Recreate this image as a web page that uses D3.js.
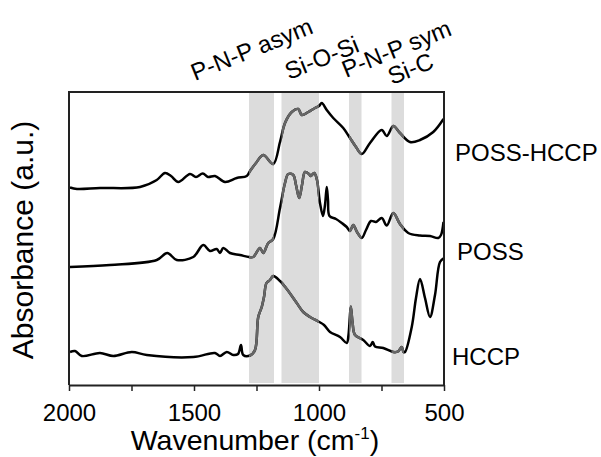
<!DOCTYPE html>
<html>
<head>
<meta charset="utf-8">
<script src="https://cdn.jsdelivr.net/npm/d3@7"></script>
<style>
  body { margin: 0; background: #fff; }
  text { font-family: "Liberation Sans", Arial, sans-serif; fill: #000; }
</style>
</head>
<body>
<svg id="chart" width="601" height="457"></svg>
<script>
// FTIR spectra, wavenumber (cm-1) vs absorbance (arbitrary units, curves offset)
var possHccpWn = [1996, 1968, 1876, 1716, 1649, 1616, 1592, 1563, 1516, 1492, 1465, 1444, 1416, 1376, 1329, 1289, 1276, 1252, 1223, 1183, 1156, 1136, 1109, 1083, 1069, 1043, 1016, 1000, 989, 969, 943, 903, 876, 852, 829, 796, 749, 729, 703, 676, 636, 596, 543, 502]
var possHccpAbs = [197.5, 196, 197, 198, 205, 212, 209, 203, 211, 208, 211.5, 208, 209, 203, 207, 209, 214, 222, 230, 221, 243, 262, 273, 276, 270, 273, 277, 279, 282, 275, 267, 257, 247, 238, 231, 242, 255, 249, 259, 252, 243, 245, 253, 266]

var possWn = [1996, 1836, 1649, 1607, 1569, 1503, 1463, 1436, 1409, 1396, 1383, 1356, 1316, 1280, 1263, 1236, 1223, 1203, 1183, 1156, 1136, 1123, 1103, 1092, 1079, 1068, 1056, 1040, 1034, 1019, 1008, 996, 984, 976, 969, 964, 958, 932, 909, 889, 876, 863, 848, 829, 812, 792, 772, 749, 729, 703, 676, 643, 596, 556, 523, 512, 502]
var possAbs = [118, 120, 125, 132, 125, 128, 140, 134, 136, 132, 137, 132, 130, 128, 128, 137, 132, 142, 146, 177, 202, 211, 210, 200, 187, 200, 213, 211, 209, 212, 205, 182, 169, 180, 198, 185, 169, 166, 162, 158, 154, 160, 153, 147, 155, 164, 163, 167, 159.5, 172, 161, 152, 149.5, 149, 147, 150, 163]

var hccpWn = [1996, 1976, 1949, 1876, 1823, 1749, 1689, 1503, 1416, 1396, 1369, 1343, 1324, 1312, 1303, 1276, 1256, 1243, 1229, 1220, 1210, 1196, 1183, 1156, 1129, 1089, 1063, 1036, 999, 980, 956, 916, 889, 882, 873, 866, 856, 823, 796, 785, 776, 743, 703, 684, 669, 662, 656, 629, 612, 596, 576, 556, 536, 516, 500]
var hccpAbs = [33, 34, 29, 32, 29, 33, 30, 28, 32, 29, 33, 30, 31, 40, 30, 29.5, 35, 68, 78, 88, 102, 105, 109, 104, 96, 82, 73, 68, 63, 60, 53, 48, 42, 50, 78.5, 63, 50, 45, 39, 43, 38.5, 37, 33, 33.5, 38, 33, 33, 58, 87, 106, 87, 68, 90, 123, 127]

var seriesNames = ["POSS-HCCP", "POSS", "HCCP"]

// shaded assignment bands [from, to] in cm-1
var bandFrom = [1280, 1150, 880, 710]
var bandTo = [1180, 1000, 830, 660]
var bandLabels = ["P-N-P asym", "Si-O-Si", "P-N-P sym", "Si-C"]

var xTicks = [2000, 1750, 1500, 1250, 1000, 750, 500]
var xTickLabels = ["2000", "", "1500", "", "1000", "", "500"]

var svg = d3.select("#chart")
var plotLeft = 69, plotRight = 444, plotTop = 92, plotBottom = 385

var x = d3.scaleLinear().domain([2000, 500]).range([plotLeft, plotRight])
var y = d3.scaleLinear().domain([0, 293]).range([plotBottom, plotTop])

var series = [
    { name: seriesNames[0], wn: possHccpWn, abs: possHccpAbs },
    { name: seriesNames[1], wn: possWn, abs: possAbs },
    { name: seriesNames[2], wn: hccpWn, abs: hccpAbs }
]

// clip paths
var defs = svg.append("defs")
defs.append("clipPath").attr("id", "plot-clip")
    .append("rect")
    .attr("x", plotLeft).attr("y", plotTop)
    .attr("width", plotRight - plotLeft).attr("height", plotBottom - plotTop)

var bandClip = defs.append("clipPath").attr("id", "band-clip")
bandFrom.forEach(function (b, i) {
    bandClip.append("rect")
        .attr("x", x(b)).attr("y", plotTop - 2)
        .attr("width", x(bandTo[i]) - x(b))
        .attr("height", plotBottom - plotTop)
})

// bands
svg.append("g").selectAll("rect")
    .data(bandFrom)
    .enter()
    .append("rect")
    .attr("x", function (d) { return x(d) })
    .attr("y", plotTop)
    .attr("width", function (d, i) { return x(bandTo[i]) - x(d) })
    .attr("height", plotBottom - plotTop - 2)
    .attr("fill", "#dcdcdc")

var line = d3.line()
    .x(function (d) { return x(d[0]) })
    .y(function (d) { return y(d[1]) })
    .curve(d3.curveCatmullRom.alpha(0.5))

var curves = svg.append("g").attr("clip-path", "url(#plot-clip)")
series.forEach(function (s) {
    var pts = s.wn.map(function (w, i) { return [w, s.abs[i]] })
    curves.append("path")
        .attr("d", line(pts))
        .attr("fill", "none")
        .attr("stroke", "#000")
        .attr("stroke-width", 2.5)
        .attr("stroke-linejoin", "round")
    curves.append("path")
        .attr("d", line(pts))
        .attr("fill", "none")
        .attr("stroke", "#666")
        .attr("stroke-width", 2.5)
        .attr("stroke-linejoin", "round")
        .attr("clip-path", "url(#band-clip)")
})

// frame: left, top, right
svg.append("path")
    .attr("d", "M" + plotLeft + "," + plotBottom + "V" + plotTop + "H" + plotRight + "V" + plotBottom)
    .attr("fill", "none")
    .attr("stroke", "#222")
    .attr("stroke-width", 2)

// x axis
var xAxis = d3.axisBottom(x)
    .tickValues(xTicks)
    .tickSize(6)
    .tickSizeOuter(0)
    .tickPadding(13)
    .tickFormat(function (d, i) { return xTickLabels[i] })

var gx = svg.append("g")
    .attr("transform", "translate(0," + plotBottom + ")")
    .call(xAxis)
gx.select(".domain").attr("stroke", "#222").attr("stroke-width", 2)
gx.selectAll(".tick line").attr("stroke", "#222").attr("stroke-width", 1.5)
gx.selectAll(".tick text")
    .style("font-family", "Liberation Sans, Arial, sans-serif")
    .style("font-size", "24px")
    .attr("fill", "#000")

// axis titles
var xt = svg.append("text")
    .attr("x", 255)
    .attr("y", 450)
    .attr("text-anchor", "middle")
    .style("font-size", "28.5px")
xt.append("tspan").text("Wavenumber (cm")
xt.append("tspan").attr("dy", -11).style("font-size", "17px").text("-1")
xt.append("tspan").attr("dy", 11).text(")")

svg.append("text")
    .attr("transform", "translate(33," + 240 + ") rotate(-90)")
    .attr("text-anchor", "middle")
    .style("font-size", "30px")
    .text("Absorbance (a.u.)")

// series labels at right
var seriesLabelPos = [[455, 161], [457, 260], [452, 365]]
svg.append("g").selectAll("text")
    .data(seriesNames)
    .enter()
    .append("text")
    .attr("x", function (d, i) { return seriesLabelPos[i][0] })
    .attr("y", function (d, i) { return seriesLabelPos[i][1] })
    .style("font-size", "24px")
    .text(function (d) { return d })

// band annotations, rotated
var annPos = [[195, 81], [289, 80], [346, 78], [392, 85]]
svg.append("g").selectAll("text")
    .data(bandLabels)
    .enter()
    .append("text")
    .attr("transform", function (d, i) {
        return "translate(" + annPos[i][0] + "," + annPos[i][1] + ") rotate(-22)"
    })
    .style("font-size", "24px")
    .text(function (d) { return d })
</script>
</body>
</html>
